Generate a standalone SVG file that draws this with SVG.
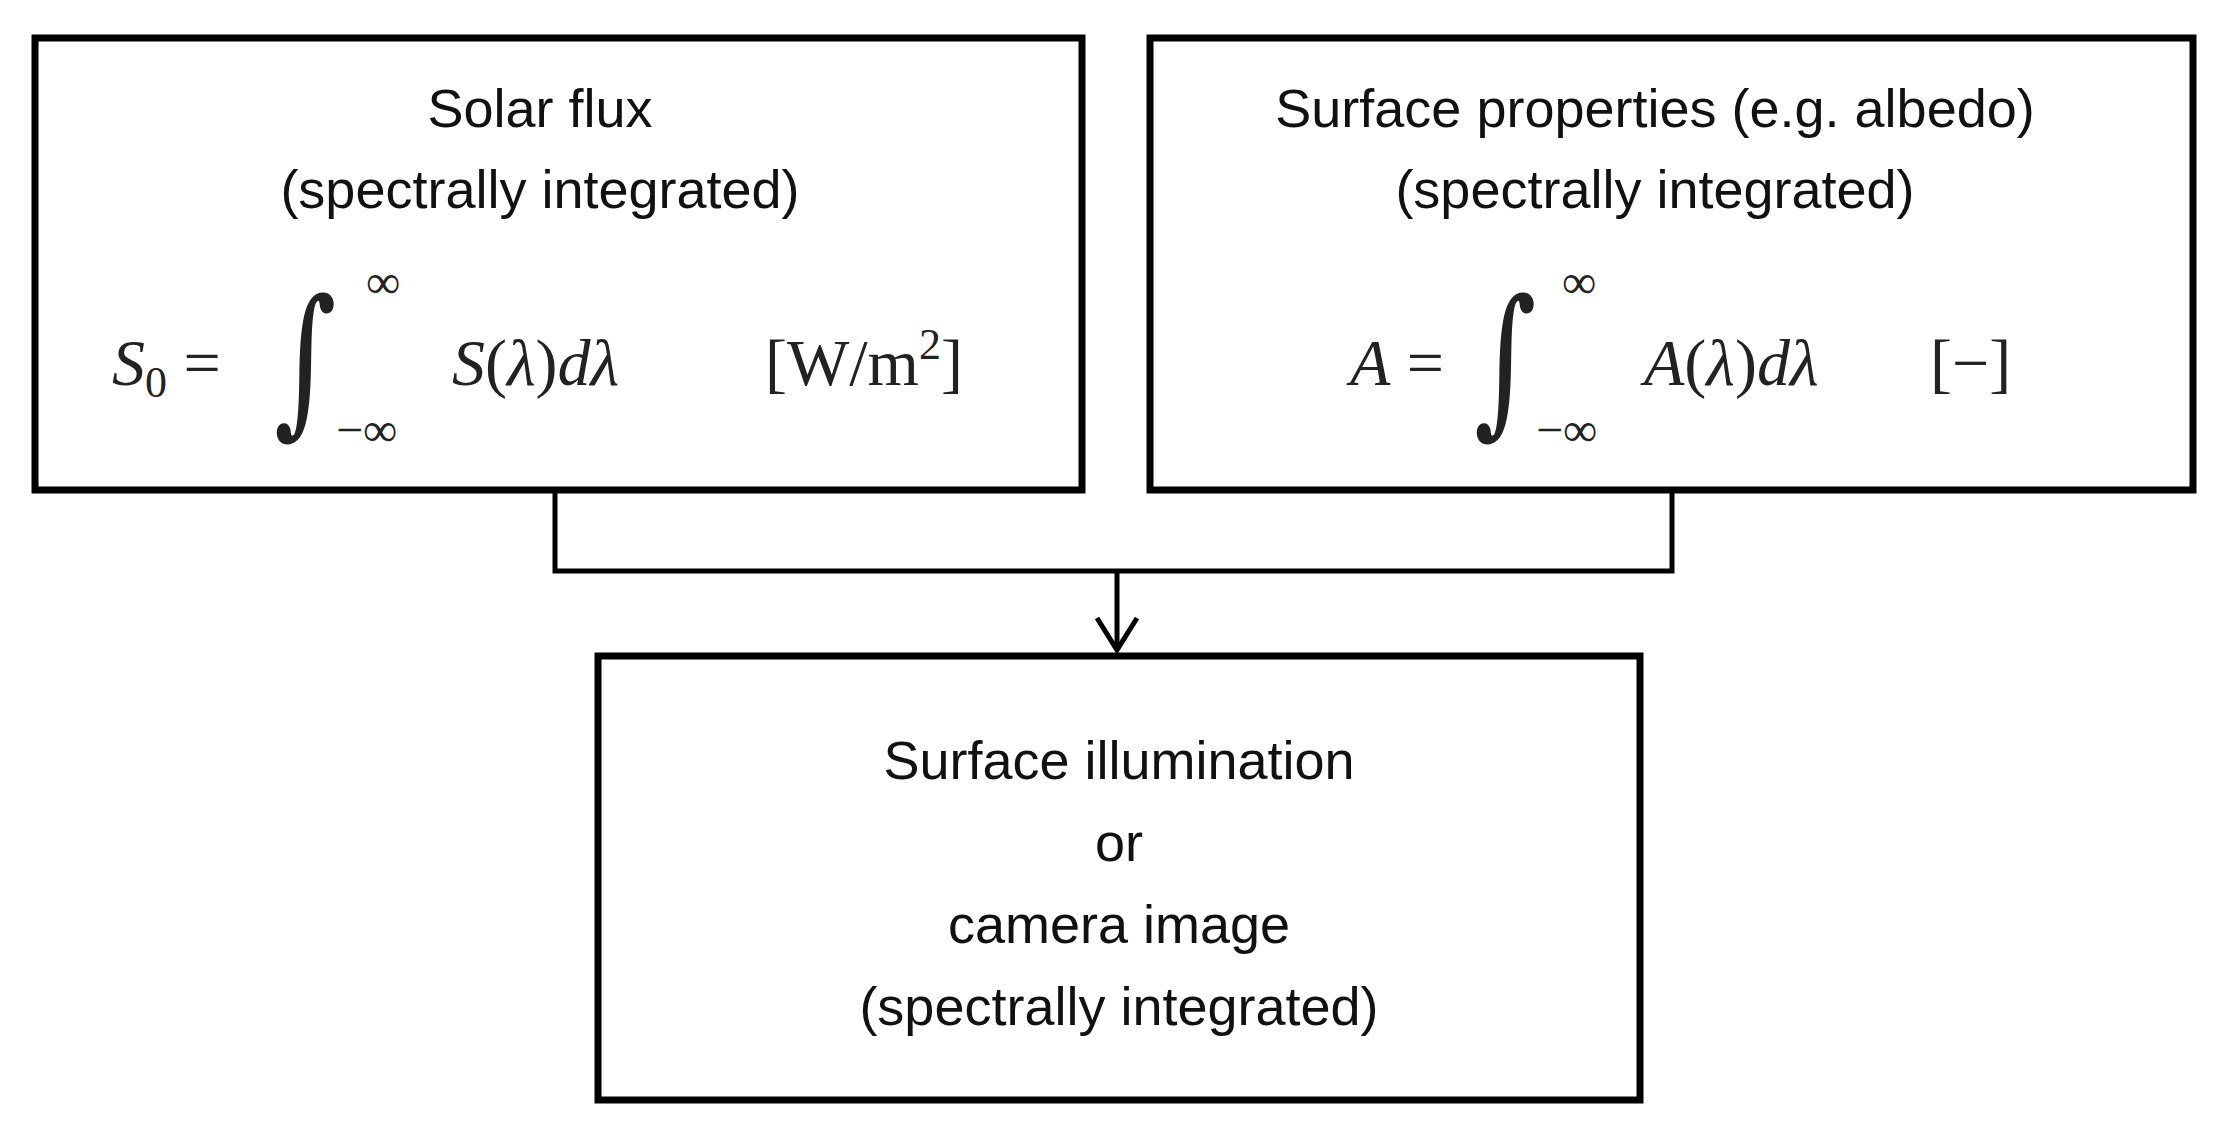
<svg xmlns="http://www.w3.org/2000/svg" width="2226" height="1139" viewBox="0 0 2226 1139">
<style>
.box{fill:#fff;stroke:#000;stroke-width:7}
.t{font-family:"Liberation Sans",Arial,sans-serif;font-size:54px;text-anchor:middle;fill:#111}
.m{font-family:"Liberation Serif","Times New Roman",serif;font-size:66px;fill:#222}
.int{font-family:"DejaVu Serif","Liberation Serif",serif;font-size:120px;fill:#222}
.sm{font-family:"Liberation Serif","Times New Roman",serif;font-size:48px;fill:#222}
.mi{font-style:italic}
.c{fill:none;stroke:#000;stroke-width:5}
</style>
<rect width="2226" height="1139" fill="#fff"/>
<g id="connectors">
<path class="c" d="M555,490 V571 H1672 V490"/>
<path class="c" d="M1117,571 V650"/>
<path class="c" d="M1097,618 L1117,650 L1137,618"/>
</g>
<g id="solar">
<rect class="box" x="35" y="38" width="1047" height="452"/>
<text class="t" x="540" y="127">Solar flux</text>
<text class="t" x="540" y="208">(spectrally integrated)</text>
<text class="m" x="112" y="385"><tspan class="mi">S</tspan><tspan style="font-size:44px" dy="12">0</tspan><tspan dy="-12"> = </tspan></text>
<text class="int" transform="translate(274,415) scale(1,1.35)">∫</text>
<text class="sm" x="366" y="298">∞</text>
<text class="sm" x="336" y="446">−∞</text>
<text class="m" x="452" y="385"><tspan class="mi">S</tspan>(<tspan class="mi">λ</tspan>)<tspan class="mi">dλ</tspan></text>
<text class="m" x="765" y="385">[W/m<tspan style="font-size:44px" dy="-26">2</tspan><tspan dy="26">]</tspan></text>
</g>
<g id="surface">
<rect class="box" x="1150" y="38" width="1043" height="452"/>
<text class="t" x="1655" y="127">Surface properties (e.g. albedo)</text>
<text class="t" x="1655" y="208">(spectrally integrated)</text>
<text class="m" x="1350" y="385"><tspan class="mi">A</tspan> = </text>
<text class="int" transform="translate(1474,415) scale(1,1.35)">∫</text>
<text class="sm" x="1562" y="298">∞</text>
<text class="sm" x="1536" y="446">−∞</text>
<text class="m" x="1644" y="385"><tspan class="mi">A</tspan>(<tspan class="mi">λ</tspan>)<tspan class="mi">dλ</tspan></text>
<text class="m" x="1930" y="385">[−]</text>
</g>
<g id="result">
<rect class="box" x="598" y="656" width="1042" height="444"/>
<text class="t" x="1119" y="779">Surface illumination</text>
<text class="t" x="1119" y="861">or</text>
<text class="t" x="1119" y="943">camera image</text>
<text class="t" x="1119" y="1025">(spectrally integrated)</text>
</g>
</svg>
